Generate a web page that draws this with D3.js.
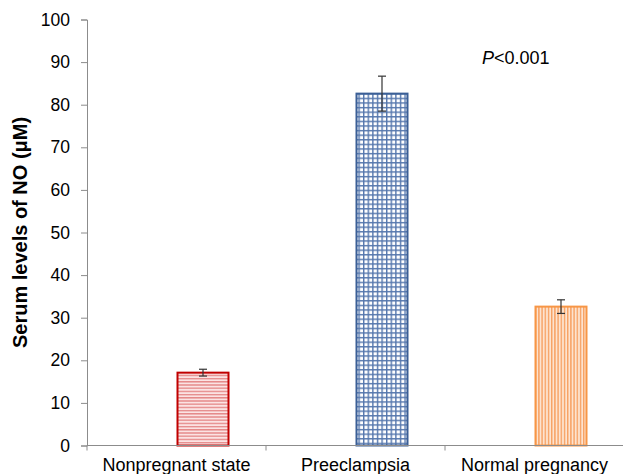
<!DOCTYPE html>
<html>
<head>
<meta charset="utf-8">
<script src="https://cdn.jsdelivr.net/npm/d3@7"></script>
<style>
  body { margin: 0; background: #fff; }
  text { font-family: "Liberation Sans", Arial, sans-serif; }
</style>
</head>
<body>
<div id="chart"></div>
<script>
// Chart data
const groups = ['Nonpregnant state', 'Preeclampsia', 'Normal pregnancy'];
const means = [17.1, 82.6, 32.6];
const errors = [0.8, 4.1, 1.6];
const yTicks = [0, 10, 20, 30, 40, 50, 60, 70, 80, 90, 100];

// Chart dimensions
const W = 623;
const H = 474;
const margin = { top: 19.5, right: 0, bottom: 28.5, left: 87 };
const width = 624 - margin.left;
const height = H - margin.top - margin.bottom;

const svg = d3
  .select('#chart')
  .append('svg')
  .attr('width', W)
  .attr('height', H);

// Fill patterns
const defs = svg.append('defs');

const pRed = defs.append('pattern').attr('id', 'pRed')
  .attr('patternUnits', 'userSpaceOnUse').attr('width', 6).attr('height', 3.2);
pRed.append('rect').attr('width', 6).attr('height', 3.2).attr('fill', '#fbe3e3');
pRed.append('rect').attr('y', 0).attr('width', 6).attr('height', 1.4).attr('fill', '#e58a8a');

const pBlue = defs.append('pattern').attr('id', 'pBlue')
  .attr('patternUnits', 'userSpaceOnUse').attr('width', 4.6).attr('height', 4.6);
pBlue.append('rect').attr('width', 4.6).attr('height', 4.6).attr('fill', '#ffffff');
pBlue.append('rect').attr('width', 1.4).attr('height', 4.6).attr('fill', '#5577ad');
pBlue.append('rect').attr('width', 4.6).attr('height', 1.4).attr('fill', '#5577ad');

const pOrange = defs.append('pattern').attr('id', 'pOrange')
  .attr('patternUnits', 'userSpaceOnUse').attr('width', 3.2).attr('height', 6);
pOrange.append('rect').attr('width', 3.2).attr('height', 6).attr('fill', '#fde3cf');
pOrange.append('rect').attr('width', 1.4).attr('height', 6).attr('fill', '#f7a162');

const fills = ['url(#pRed)', 'url(#pBlue)', 'url(#pOrange)'];
const borders = ['#c00000', '#3b5f96', '#f79646'];

const g = svg.append('g')
  .attr('transform', `translate(${margin.left}, ${margin.top})`);

// Chart scales
const x = d3.scaleBand().domain(groups).range([0, width]);
const y = d3.scaleLinear().domain([0, 100]).range([height, 0]);
const barW = 51;

// Bars
g.selectAll('.bar')
  .data(groups)
  .enter()
  .append('rect')
  .attr('class', 'bar')
  .attr('x', (d) => x(d) + x.bandwidth() / 2 + 1)
  .attr('y', (d, i) => y(means[i]))
  .attr('width', barW)
  .attr('height', (d, i) => y(0) - y(means[i]))
  .attr('fill', (d, i) => fills[i])
  .attr('stroke', (d, i) => borders[i])
  .attr('stroke-width', 2);

// Error bars
const eb = g.selectAll('.err')
  .data(groups)
  .enter()
  .append('g')
  .attr('class', 'err')
  .attr('transform', (d) => `translate(${x(d) + x.bandwidth() / 2 + 1 + barW / 2}, 0)`)
  .attr('stroke', '#333')
  .attr('stroke-width', 1.2);
eb.append('line')
  .attr('y1', (d, i) => y(means[i] + errors[i]))
  .attr('y2', (d, i) => y(means[i] - errors[i]));
eb.append('line')
  .attr('x1', -4).attr('x2', 4)
  .attr('y1', (d, i) => y(means[i] + errors[i]))
  .attr('y2', (d, i) => y(means[i] + errors[i]));
eb.append('line')
  .attr('x1', -4).attr('x2', 4)
  .attr('y1', (d, i) => y(means[i] - errors[i]))
  .attr('y2', (d, i) => y(means[i] - errors[i]));

// Y axis
const yAxis = g.append('g')
  .call(d3.axisLeft(y).tickValues(yTicks).tickSize(6).tickPadding(11));
yAxis.selectAll('line, path').attr('stroke', '#8c8c8c');
yAxis.selectAll('text')
  .style('font-size', '17.5px')
  .attr('fill', '#000');

// X axis
const xAxis = g.append('g')
  .attr('transform', `translate(0, ${height})`)
  .call(d3.axisBottom(x).tickSize(0).tickPadding(12));
xAxis.select('path').attr('stroke', '#8c8c8c').attr('d', `M0,0H${width}`);
xAxis.selectAll('text')
  .style('font-size', '18px')
  .attr('fill', '#000')
  .attr('dy', '0.75em');
// category boundary ticks
xAxis.selectAll('.bound')
  .data([0, 1, 2])
  .enter()
  .append('line')
  .attr('class', 'bound')
  .attr('x1', (i) => i * x.bandwidth())
  .attr('x2', (i) => i * x.bandwidth())
  .attr('y1', 0)
  .attr('y2', 5)
  .attr('stroke', '#8c8c8c');

// Y axis title
svg.append('text')
  .attr('transform', `translate(27, ${margin.top + height / 2}) rotate(-90)`)
  .attr('text-anchor', 'middle')
  .style('font-size', '20px')
  .style('font-weight', 'bold')
  .text('Serum levels of NO (μM)');

// P value
const pText = svg.append('text')
  .attr('x', 482)
  .attr('y', 64)
  .style('font-size', '18px');
pText.append('tspan').style('font-style', 'italic').text('P');
pText.append('tspan').text('<0.001');
</script>
</body>
</html>
